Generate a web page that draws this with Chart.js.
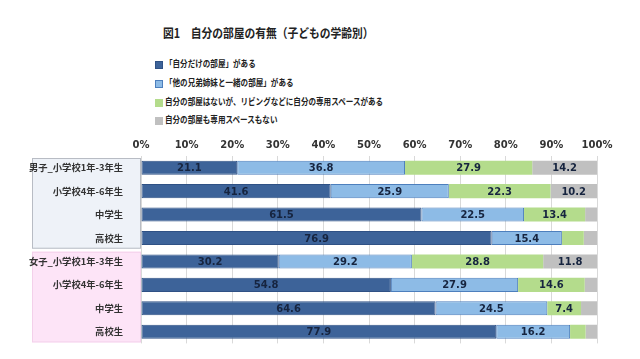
<!DOCTYPE html>
<html>
<head>
<meta charset="utf-8">
<script src="https://cdn.jsdelivr.net/npm/chart.js@4/dist/chart.umd.min.js"></script>
<style>
  body { margin: 0; background: #fff; font-family: "Noto Sans CJK JP", sans-serif; }
  #wrap { position: relative; width: 640px; height: 359px; }
  #title { position: absolute; left: 163px; top: 23px; font-size: 12.5px; font-weight: bold; color: #222;
           transform: scaleX(0.86); transform-origin: left top; white-space: nowrap; }
  #legend { position: absolute; left: 155px; top: 55px; font-size: 9px; font-weight: bold; color: #222; }
  #legend div { height: 18.7px; line-height: 18px; display: flex; align-items: center; white-space: nowrap; }
  #legend span.txt { display: inline-block; transform: scaleX(0.84); transform-origin: left center; }
  #legend span.box { display: inline-block; width: 6px; height: 6px; margin-right: 2px; margin-top: 2px; }
  canvas { position: absolute; left: 0; top: 0; }
</style>
</head>
<body>
<div id="wrap">
  <div id="title">図1　自分の部屋の有無（子どもの学齢別）</div>
  <div id="legend"></div>
  <canvas id="chart" width="640" height="359"></canvas>
</div>
<script>
const categories = ['男子_小学校1年-3年生', '小学校4年-6年生', '中学生', '高校生',
                    '女子_小学校1年-3年生', '小学校4年-6年生', '中学生', '高校生'];
const seriesNames = ['「自分だけの部屋」がある', '「他の兄弟姉妹と一緒の部屋」がある',
                     '自分の部屋はないが、リビングなどに自分の専用スペースがある', '自分の部屋も専用スペースもない'];
const ownRoom    = [21.1, 41.6, 61.5, 76.9, 30.2, 54.8, 64.6, 77.9];
const sharedRoom = [36.8, 25.9, 22.5, 15.4, 29.2, 27.9, 24.5, 16.2];
const ownSpace   = [27.9, 22.3, 13.4, 4.8, 28.8, 14.6, 7.4, 3.4];
const nothing    = [14.2, 10.2, 2.6, 2.9, 11.8, 2.7, 3.5, 2.5];
const tickLabels = ['0%', '10%', '20%', '30%', '40%', '50%', '60%', '70%', '80%', '90%', '100%'];

const colors = ['#3d6399', '#8dbbe6', '#b4dc8c', '#c0c0c0'];
const borders = ['#2f5185', '#4d7fbd', '#b4dc8c', '#c0c0c0'];

const legend = document.getElementById('legend');
seriesNames.forEach((n, i) => {
  const d = document.createElement('div');
  d.innerHTML = '<span class="box" style="background:' + colors[i] + ';border:1px solid ' + borders[i] + '"></span>' +
                '<span class="txt">' + n + '</span>';
  legend.appendChild(d);
});

// group boxes behind the category labels
const groupBoxes = {
  id: 'groupBoxes',
  beforeDraw(chart) {
    const ctx = chart.ctx;
    const y = chart.scales.y;
    const half = (y.getPixelForValue(1) - y.getPixelForValue(0)) / 2;
    const left = 32, right = chart.chartArea.left;
    const groups = [[0, 3, '#eef2f8', '#b8bcc4'], [4, 7, '#fde4f7', '#f3d0ea']];
    ctx.save();
    groups.forEach(g => {
      const top = y.getPixelForValue(g[0]) - half + 2;
      const bot = y.getPixelForValue(g[1]) + half - 1;
      ctx.fillStyle = g[2];
      ctx.fillRect(left, top, right - left, bot - top);
      ctx.strokeStyle = g[3];
      ctx.lineWidth = 1;
      ctx.strokeRect(left + 0.5, top + 0.5, right - left - 1, bot - top - 1);
    });
    ctx.restore();
  }
};

// values inside the segments
const valueLabels = {
  id: 'valueLabels',
  afterDatasetsDraw(chart) {
    const ctx = chart.ctx;
    ctx.save();
    ctx.font = 'bold 10px Verdana, "DejaVu Sans", sans-serif';
    ctx.fillStyle = '#16243f';
    ctx.textAlign = 'center';
    ctx.textBaseline = 'middle';
    chart.data.datasets.forEach((ds, di) => {
      chart.getDatasetMeta(di).data.forEach((bar, i) => {
        const v = ds.data[i];
        if (v < 7) return;
        const x = (bar.x + bar.base) / 2;
        ctx.fillText(v.toFixed(1), x, bar.y + 1);
      });
    });
    ctx.restore();
  }
};

new Chart(document.getElementById('chart'), {
  type: 'bar',
  data: {
    labels: categories,
    datasets: [ownRoom, sharedRoom, ownSpace, nothing].map((d, i) => ({
      label: seriesNames[i],
      data: d,
      backgroundColor: colors[i],
      borderColor: borders[i],
      borderWidth: i < 2 ? 1 : 0,
      borderSkipped: false,
      barPercentage: 0.6,
      categoryPercentage: 1
    }))
  },
  options: {
    indexAxis: 'y',
    responsive: false,
    animation: false,
    layout: { padding: { left: 0, right: 43, top: 128, bottom: 11 } },
    plugins: { legend: { display: false }, tooltip: { enabled: false } },
    scales: {
      x: {
        position: 'top',
        stacked: true,
        min: 0,
        max: 100,
        afterFit(s) { s.height = 28; },
        afterBuildTicks(s) { s.ticks = tickLabels.map((t, i) => ({ value: i * 10 })); },
        ticks: {
          callback: (v, i) => tickLabels[i],
          color: '#333',
          font: { family: 'Verdana, "DejaVu Sans", sans-serif', size: 10, weight: 'bold' },
          padding: 5
        },
        grid: { color: '#d9d9d9', drawTicks: false },
        border: { display: false }
      },
      y: {
        stacked: true,
        afterFit(s) { s.width = 141; },
        ticks: {
          color: '#333',
          font: { family: '"Noto Sans CJK JP", sans-serif', size: 9.3, weight: 'bold' },
          padding: 10
        },
        grid: { display: false },
        border: { display: false }
      }
    }
  },
  plugins: [groupBoxes, valueLabels]
});
</script>
</body>
</html>
